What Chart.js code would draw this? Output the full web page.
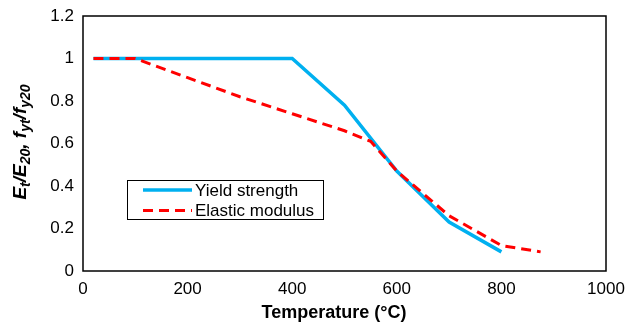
<!DOCTYPE html>
<html><head><meta charset="utf-8">
<script src="https://cdn.jsdelivr.net/npm/chart.js@4/dist/chart.umd.min.js"></script>
<style>html,body{margin:0;padding:0;background:#fff}#wrap{width:628px;height:328px}</style>
</head><body><div id="wrap"><canvas id="c" width="628" height="328"></canvas></div>
<script>
const yieldTemps = [20, 400, 500, 600, 700, 800];
const yieldValues = [1, 1, 0.78, 0.47, 0.23, 0.09];
const elasticTemps = [20, 100, 200, 300, 400, 500, 550, 600, 700, 800, 875];
const elasticValues = [1, 1, 0.91, 0.82, 0.74, 0.66, 0.61, 0.47, 0.26, 0.12, 0.09];
const seriesNames = ['Yield strength', 'Elastic modulus'];
const xTitle = 'Temperature (°C)';

const FONT = '"Liberation Sans", Arial, sans-serif';

const boxPlugin = {
  id: 'box',
  afterDraw(chart) {
    const {ctx, chartArea: a} = chart;
    ctx.save();
    ctx.strokeStyle = '#000'; ctx.lineWidth = 1.5;
    ctx.strokeRect(a.left, a.top, a.right - a.left, a.bottom - a.top);
    // x title
    ctx.fillStyle = '#000';
    ctx.font = 'bold 18px ' + FONT;
    ctx.textAlign = 'center'; ctx.textBaseline = 'middle';
    ctx.fillText(xTitle, 334, 313);
    // y title with subscripts
    const parts = [['E',0],['t',1],['/E',0],['20',1],[', f',0],['yt',1],['/f',0],['y20',1]];
    const big = 'italic bold 19px ' + FONT, small = 'italic bold 14px ' + FONT;
    let w = 0;
    parts.forEach(p => { ctx.font = p[1] ? small : big; w += ctx.measureText(p[0]).width; });
    ctx.translate(21, 142);
    ctx.rotate(-Math.PI / 2);
    ctx.textAlign = 'left'; ctx.textBaseline = 'alphabetic';
    let x = -w / 2;
    parts.forEach(p => {
      ctx.font = p[1] ? small : big;
      ctx.fillText(p[0], x, p[1] ? 9 : 5);
      x += ctx.measureText(p[0]).width;
    });
    ctx.restore();
    // legend
    ctx.save();
    const lx = 127, ly = 180, lw = 196, lh = 39;
    ctx.fillStyle = '#fff'; ctx.fillRect(lx, ly, lw, lh);
    ctx.strokeStyle = '#000'; ctx.lineWidth = 1; ctx.strokeRect(lx + 0.5, ly + 0.5, lw, lh);
    chart.data.datasets.forEach((ds, i) => {
      const yy = 190 + i * 20.5;
      ctx.strokeStyle = ds.borderColor; ctx.lineWidth = ds.borderWidth;
      ctx.setLineDash(ds.borderDash || []);
      ctx.beginPath(); ctx.moveTo(143, yy); ctx.lineTo(192, yy); ctx.stroke();
      ctx.setLineDash([]);
      ctx.fillStyle = '#000'; ctx.font = '17px ' + FONT;
      ctx.textAlign = 'left'; ctx.textBaseline = 'middle';
      ctx.fillText(ds.label, 195, yy + 1);
    });
    ctx.restore();
  }
};

new Chart(document.getElementById('c'), {
  type: 'line',
  data: {
    datasets: [
      { label: seriesNames[0], data: yieldTemps.map((t, i) => ({x: t, y: yieldValues[i]})), order: 1,
        borderColor: '#00B0F0', borderWidth: 3.5, pointRadius: 0, tension: 0, fill: false },
      { label: seriesNames[1], data: elasticTemps.map((t, i) => ({x: t, y: elasticValues[i]})), order: 0,
        borderColor: '#FF0000', borderWidth: 3, borderDash: [10, 6], pointRadius: 0, tension: 0, fill: false }
    ]
  },
  options: {
    responsive: false, animation: false, devicePixelRatio: 1,
    layout: { padding: { top: 16, right: 22, left: 0, bottom: 0 } },
    plugins: { legend: { display: false }, tooltip: { enabled: false } },
    scales: {
      x: { type: 'linear', min: 0, max: 1000,
        grid: { display: false, drawTicks: false }, border: { display: false },
        ticks: { stepSize: 200, color: '#000', font: { size: 17, family: FONT }, padding: 8, maxRotation: 0,
          callback: v => String(v) },
        afterFit: s => { s.height = 57; s.paddingLeft = 0; s.paddingRight = 0; } },
      y: { min: 0, max: 1.2,
        grid: { display: false, drawTicks: false }, border: { display: false },
        ticks: { stepSize: 0.2, color: '#000', font: { size: 17, family: FONT }, padding: 9,
          callback: v => String(Math.round(v * 10) / 10) },
        afterFit: s => { s.width = 83; s.paddingTop = 0; s.paddingBottom = 0; } }
    }
  },
  plugins: [boxPlugin]
});
</script></body></html>
